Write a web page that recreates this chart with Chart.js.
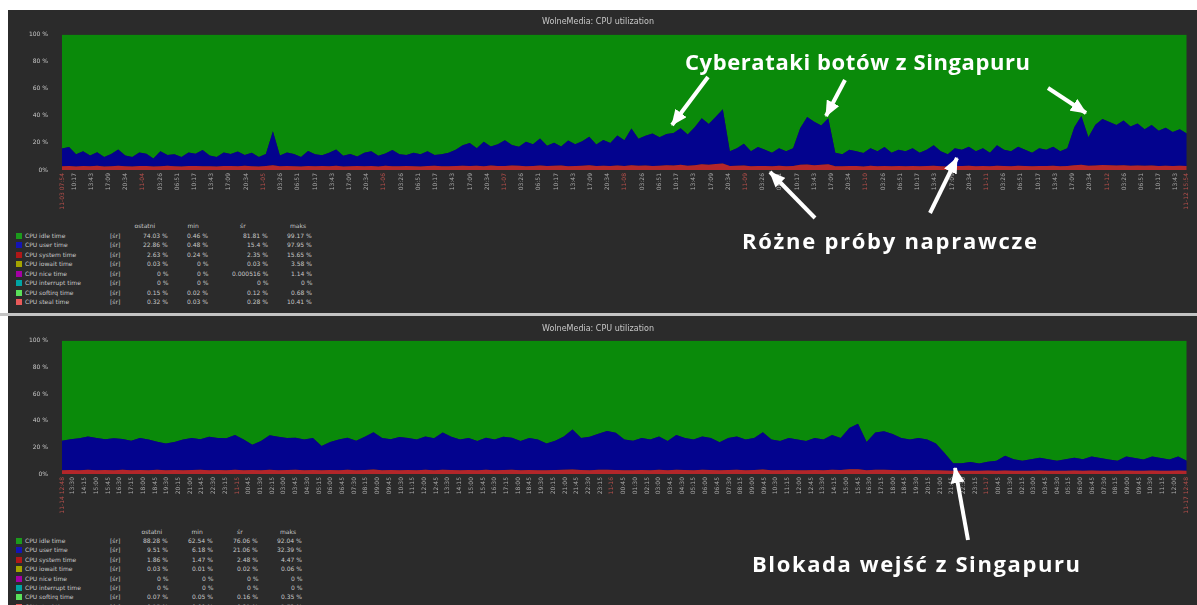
<!DOCTYPE html>
<html>
<head>
<meta charset="utf-8">
<script src="https://cdn.jsdelivr.net/npm/chart.js@4"></script>
<style>
  body { margin: 0; width: 1197px; height: 605px; overflow: hidden; background: #fff; position: relative; font-family: "DejaVu Sans", sans-serif; }
  .panel { position: absolute; left: 8px; width: 1189px; background: #2b2b2b; }
  #p1 { top: 10px; height: 303px; }
  #p2 { top: 316px; height: 289px; }
  #sep { position: absolute; left: 0; top: 313px; width: 1197px; height: 3px; background: #c4c4c4; }
  canvas { position: absolute; left: 8px; }
  #c1 { top: 10px; }
  #c2 { top: 317px; }
  .lg { position: absolute; font-size: 6px; color: #c8c8c8; white-space: nowrap; line-height: 8px; }
  .sq { position: absolute; width: 6px; height: 6px; }
  #ann { position: absolute; left: 0; top: 0; }
</style>
</head>
<body>
<div class="panel" id="p1"></div>
<div id="sep"></div>
<div class="panel" id="p2"></div>
<canvas id="c1" width="1189" height="200"></canvas>
<canvas id="c2" width="1189" height="200"></canvas>
<div id="legend"></div>

<svg id="ann" width="1197" height="605">
  <defs>
    <marker id="ah" markerWidth="16" markerHeight="14" refX="15" refY="7" orient="auto" markerUnits="userSpaceOnUse">
      <path d="M0,0 L16,7 L0,14 z" fill="#fff"/>
    </marker>
  </defs>
  <g stroke="#fff" stroke-width="4" marker-end="url(#ah)">
    <line x1="708" y1="77" x2="672" y2="125"/>
    <line x1="845" y1="80" x2="826" y2="116"/>
    <line x1="1048" y1="88" x2="1086" y2="113"/>
    <line x1="815" y1="218" x2="770" y2="172"/>
    <line x1="930" y1="213" x2="957" y2="158"/>
    <line x1="968" y1="540" x2="955" y2="468"/>
  </g>
  <g fill="#fff" font-family="Open Sans" font-weight="700" font-size="22">
    <text x="685" y="70" textLength="345" lengthAdjust="spacing">Cyberataki botów z Singapuru</text>
    <text x="742" y="249" textLength="295" lengthAdjust="spacing">Różne próby naprawcze</text>
    <text x="752" y="572" textLength="328" lengthAdjust="spacing">Blokada wejść z Singapuru</text>
  </g>
</svg>

<script>
// top graph: ~9.3 days, one sample every 1.4 h
const topHours = 224;
const topStartHour = 7.9;
const topUser = [
  13,14,9,11,8,10,7,9,12,8,
  7,10,9,6,11,8,9,7,10,9,
  12,8,7,10,9,11,8,10,7,9,
  25,8,10,9,7,11,9,8,10,12,
  8,9,7,10,11,8,9,12,9,8,
  10,9,11,8,9,10,12,
  15,17,13,18,14,16,19,15,14,18,
  16,20,15,17,14,19,16,18,21,16,
  19,17,22,19,27,20,22,24,21,23,
  24,27,23,28,34,30,35,40,
  11,13,16,11,14,12,10,13,11,13,
  27,35,32,29,34,
  10,9,12,11,10,13,11,14,10,12,
  11,13,10,12,15,11,9,13,12,14,
  11,13,10,15,12,11,14,12,10,13,
  12,14,11,13,28,
  36,21,
  30,34,32,30,33,29,31,27,30,26,28,25,27,24
];
const topSystem = [
  2.8,3.0,2.6,2.9,2.7,3.1,2.6,2.8,3.2,2.7,
  2.6,2.9,3.0,2.5,2.8,3.1,2.7,2.6,2.9,3.0,
  2.7,2.8,2.6,3.0,2.9,2.7,3.1,2.8,2.6,2.9,
  3.6,2.7,2.9,2.8,2.6,3.0,2.7,2.9,2.8,3.1,
  2.6,2.8,3.0,2.7,2.9,2.6,3.2,2.8,2.7,3.0,
  2.8,2.6,2.9,3.1,2.7,2.8,3.0,
  3.2,2.9,3.1,2.8,3.3,3.0,2.9,3.4,3.1,2.8,
  3.0,3.3,2.9,3.1,3.4,2.8,3.0,3.2,3.5,2.9,
  3.1,3.0,3.4,2.9,3.6,3.1,3.3,3.0,3.2,3.5,
  3.3,3.8,3.2,3.6,4.2,3.9,4.4,4.8,
  2.9,3.1,3.3,2.8,3.0,2.9,2.7,3.1,2.8,3.0,
  3.8,4.1,3.6,3.9,4.2,
  2.8,2.7,3.0,2.9,2.6,3.1,2.8,3.0,2.7,2.9,
  2.8,3.0,2.7,2.9,3.2,2.8,2.6,3.0,2.9,3.1,
  2.8,3.0,2.7,3.2,2.9,2.8,3.1,2.9,2.7,3.0,
  2.9,3.1,2.8,3.0,3.5,
  3.9,3.2,
  3.4,3.7,3.5,3.3,3.6,3.2,3.4,3.1,3.3,3.0,3.2,3.0,3.1,2.9
];

// bottom graph: 3 days
const bottomHours = 72;
const bottomStartHour = 12.8;
const bottomUser = [
  22,23,24,25,24,23,24,23,22,24,
  23,21,20,21,23,24,23,25,24,24,
  26,23,19,22,26,25,24,24,23,24,
  18,21,23,24,22,25,28,24,23,25,
  24,23,25,24,28,25,23,24,22,24,
  23,25,24,22,24,23,20,22,25,30,
  24,25,27,29,28,23,22,24,23,25,
  22,26,24,23,25,24,21,24,25,23,
  24,28,23,22,24,23,22,24,23,26,
  24,31,34,21,28,29,27,24,23,24,
  23,20,13,5.5,5.5,
  6.5,5.5,6.5,7.5,11,8.5,7.5,8.5,9.5,8.5,
  7.5,8.5,9.5,8.5,10.5,9.5,8.5,7.5,10.5,9.5,
  8.5,10.5,9.5,8.5,10.5,7.5
];
const bottomSystem = [
  2.9,3.0,2.8,3.1,2.9,3.0,2.8,3.2,2.9,3.0,
  2.8,3.1,2.9,3.0,2.8,3.0,3.1,2.9,3.0,2.8,
  3.2,2.9,3.0,2.8,3.1,2.9,3.0,3.1,2.8,3.0,
  2.9,3.0,2.8,3.1,2.9,3.0,3.3,2.9,3.0,2.8,
  3.0,2.9,3.1,2.8,3.2,3.0,2.9,3.0,2.8,3.1,
  2.9,3.0,3.1,2.8,3.0,2.9,2.8,3.0,3.1,3.4,
  3.0,2.9,3.1,3.2,3.0,2.8,2.9,3.0,2.9,3.1,
  2.8,3.2,3.0,2.9,3.1,3.0,2.8,3.0,3.1,2.9,
  3.0,3.3,2.9,2.8,3.0,2.9,2.8,3.0,2.9,3.2,
  3.0,3.5,3.6,2.9,3.2,3.1,3.0,2.9,2.8,3.0,
  2.9,2.8,2.7,2.5,2.5,
  2.5,2.4,2.6,2.5,2.7,2.5,2.4,2.5,2.6,2.5,
  2.4,2.5,2.6,2.5,2.7,2.5,2.4,2.5,2.6,2.5,
  2.4,2.6,2.5,2.4,2.6,2.5
];

const seriesNames = ['CPU idle time', 'CPU user time', 'CPU system time', 'CPU iowait time',
  'CPU nice time', 'CPU interrupt time', 'CPU softirq time', 'CPU steal time'];
const seriesColors = ['#1c9a1c', '#1414b4', '#b01818', '#a4a400', '#a400a4', '#00a4a4', '#5ae05a', '#e85a5a'];
const statHeaders = ['ostatni', 'min', 'śr', 'maks'];
const topStats = [
  ['74.03 %', '0.46 %', '81.81 %', '99.17 %'],
  ['22.86 %', '0.48 %', '15.4 %', '97.95 %'],
  ['2.63 %', '0.24 %', '2.35 %', '15.65 %'],
  ['0.03 %', '0 %', '0.03 %', '3.58 %'],
  ['0 %', '0 %', '0.000516 %', '1.14 %'],
  ['0 %', '0 %', '0 %', '0 %'],
  ['0.15 %', '0.02 %', '0.12 %', '0.68 %'],
  ['0.32 %', '0.03 %', '0.28 %', '10.41 %']
];
const bottomStats = [
  ['88.28 %', '62.54 %', '76.06 %', '92.04 %'],
  ['9.51 %', '6.18 %', '21.06 %', '32.39 %'],
  ['1.86 %', '1.47 %', '2.48 %', '4.47 %'],
  ['0.03 %', '0.01 %', '0.02 %', '0.06 %'],
  ['0 %', '0 %', '0 %', '0 %'],
  ['0 %', '0 %', '0 %', '0 %'],
  ['0.07 %', '0.05 %', '0.16 %', '0.35 %'],
  ['0.15 %', '0.09 %', '0.21 %', '1.72 %']
];

const GREEN = '#0a8a0a', BLUE = '#03038e', RED = '#b3262a';
const TICK_GREY = '#a8a8a8', TICK_RED = '#b9504c';

function pad(n) { return String(n).padStart(2, '0'); }
function clock(h) {
  let m = Math.round(h * 60) % 1440;
  return pad(Math.floor(m / 60)) + ':' + pad(m % 60);
}

// zabbix-like time ticks: red date at midnight, grey clock time between
function timeTicks(total, startHour, step, firstDay, minGap) {
  const vals = [0], labels = ['11-' + pad(firstDay) + ' ' + clock(startHour)], red = [true];
  const firstMid = 24 - startHour;
  let t = firstMid - Math.floor(firstMid / step) * step;
  for (; t < total; t += step) {
    if (t < minGap || t > total - minGap) continue;
    const abs = startHour + t;
    const dayOff = Math.round(abs / 24);
    const isMid = Math.abs(abs - dayOff * 24) < 0.01;
    vals.push(t);
    labels.push(isMid ? '11-' + pad(firstDay + dayOff) : clock(abs % 24));
    red.push(isMid);
  }
  const endAbs = startHour + total;
  vals.push(total);
  labels.push('11-' + pad(firstDay + Math.floor(endAbs / 24)) + ' ' + clock(endAbs % 24));
  red.push(true);
  return { vals, labels, red };
}

const topTicks = timeTicks(topHours, topStartHour, 24 / 7, 3, 1.5);
const bottomTicks = timeTicks(bottomHours, bottomStartHour, 0.75, 14, 0.5);

function makeChart(id, user, system, hours, ticks, axisHeight, titlePad) {
  const step = hours / (user.length - 1);
  const pts = arr => arr.map((v, i) => ({ x: i * step, y: v }));
  const idle = user.map((u, i) => 100 - u - system[i]);
  const ds = (label, arr, color, fill) => ({
    label, data: pts(arr), backgroundColor: color, borderColor: color,
    borderWidth: 0, pointRadius: 0, tension: 0, fill
  });
  return new Chart(document.getElementById(id), {
    type: 'line',
    data: {
      datasets: [
        ds('CPU system time', system, RED, 'origin'),
        ds('CPU user time', user, BLUE, '-1'),
        ds('CPU idle time', idle, GREEN, '-1')
      ]
    },
    options: {
      responsive: false,
      animation: false,
      layout: { padding: { left: 0, right: 9, top: 0, bottom: 0 } },
      plugins: {
        legend: { display: false },
        tooltip: { enabled: false },
        title: {
          display: true, text: 'WolneMedia: CPU utilization', color: '#c8c8c8',
          font: { family: 'DejaVu Sans', size: 8, weight: 'normal' }, padding: titlePad
        }
      },
      scales: {
        x: {
          type: 'linear', min: 0, max: hours,
          grid: { display: false, drawTicks: false }, border: { display: false },
          afterBuildTicks: s => { s.ticks = ticks.vals.map(v => ({ value: v })); },
          afterFit: s => { s.height = axisHeight; },
          ticks: {
            autoSkip: false, minRotation: 90, maxRotation: 90, padding: 3,
            font: { family: 'DejaVu Sans', size: 6 },
            color: c => ticks.red[c.index] ? TICK_RED : TICK_GREY,
            callback: (v, i) => ticks.labels[i]
          }
        },
        y: {
          stacked: true, min: 0, max: 100,
          grid: { display: false }, border: { display: false },
          afterFit: s => { s.width = 54; },
          ticks: {
            stepSize: 20, padding: 6, color: '#c8c8c8',
            font: { family: 'DejaVu Sans', size: 6 },
            callback: v => v === 0 ? '0%' : v + ' %'
          }
        }
      }
    }
  });
}

makeChart('c1', topUser, topSystem, topHours, topTicks, 40, { top: 7.5, bottom: 7.5 });
makeChart('c2', bottomUser, bottomSystem, bottomHours, bottomTicks, 43, { top: 7.5, bottom: 6.5 });

// legend tables under each graph
function legendTable(stats, headerY, rowY, rowGap, headCenters, colRights) {
  const box = document.getElementById('legend');
  const add = (cls, text, css) => {
    const el = document.createElement('div');
    el.className = cls;
    if (text !== null) el.textContent = text;
    Object.assign(el.style, css);
    box.appendChild(el);
    return el;
  };
  statHeaders.forEach((h, j) => {
    const el = add('lg', h, { top: (headerY - 4) + 'px' });
    el.style.left = (headCenters[j] - el.offsetWidth / 2) + 'px';
  });
  seriesNames.forEach((name, r) => {
    const y = rowY + r * rowGap;
    add('sq', null, { left: '16px', top: (y - 3) + 'px', background: seriesColors[r] });
    add('lg', name, { left: '25px', top: (y - 4) + 'px' });
    add('lg', '[śr]', { left: '110px', top: (y - 4) + 'px' });
    stats[r].forEach((v, j) => {
      const el = add('lg', v, { top: (y - 4) + 'px' });
      el.style.left = (colRights[j] - el.offsetWidth) + 'px';
    });
  });
}

legendTable(topStats, 226, 236, 9.45, [145, 193, 243, 298], [168, 208, 268, 312]);
legendTable(bottomStats, 532, 541, 9.4, [152, 197, 240, 288], [168, 213, 258, 302]);
</script>
</body>
</html>
